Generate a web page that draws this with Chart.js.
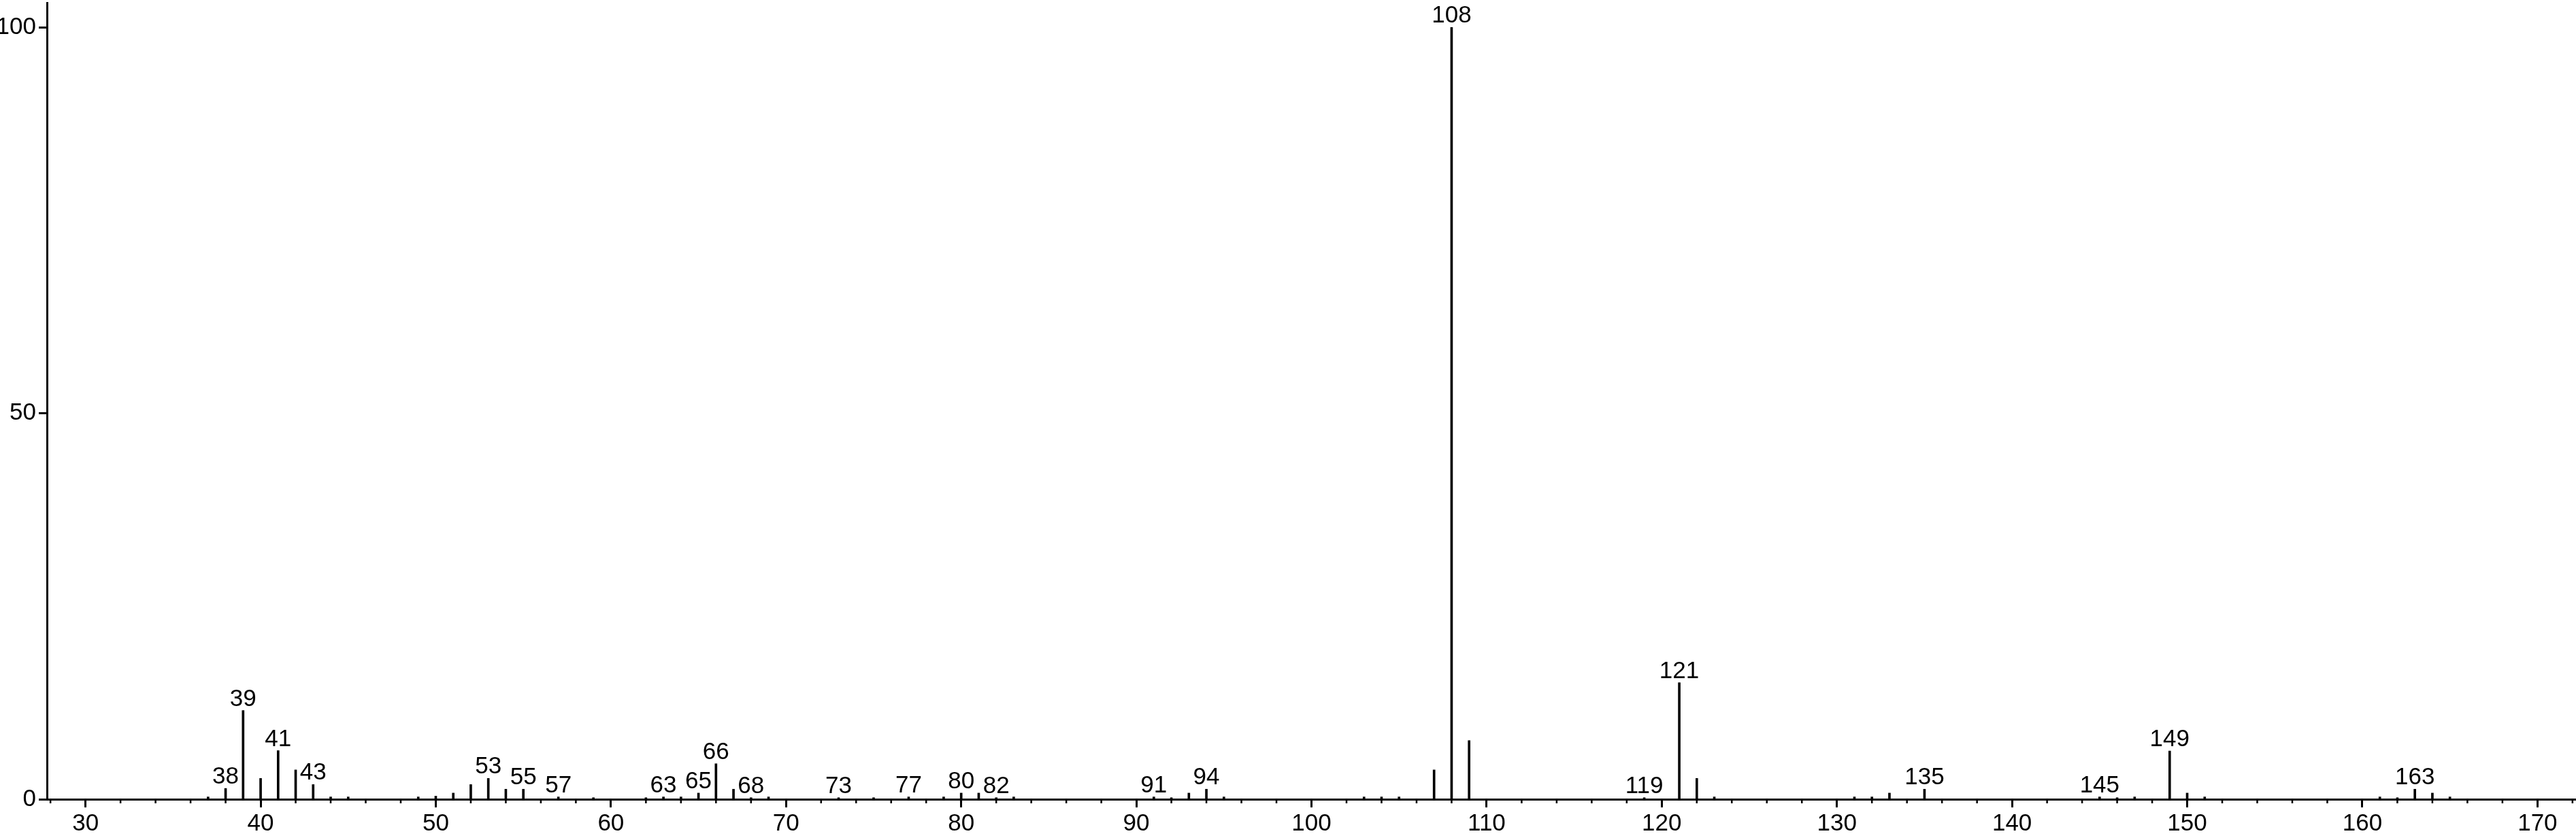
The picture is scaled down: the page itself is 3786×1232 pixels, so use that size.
<!DOCTYPE html>
<html>
<head>
<meta charset="utf-8">
<title>Mass spectrum</title>
<script src="https://cdn.jsdelivr.net/npm/chart.js@4.4.1/dist/chart.umd.min.js"></script>
<style>
  html, body { margin: 0; padding: 0; background: #fff; overflow: hidden; }
  canvas { display: block; }
</style>
</head>
<body>
<canvas id="ms-chart" width="3786" height="1232"></canvas>
<script>
// m/z of each peak and its relative intensity (%)
const masses = [37, 38, 39, 40, 41, 42, 43, 44, 45, 49, 50, 51, 52, 53, 54, 55, 57, 59, 62, 63, 64, 65, 66, 67, 68, 69,
  73, 75, 77, 79, 80, 81, 82, 83, 91, 92, 93, 94, 95, 103, 104, 105, 107, 108, 109, 119, 121, 122, 123,
  131, 132, 133, 135, 145, 146, 147, 149, 150, 151, 161, 162, 163, 164, 165]
const intensities = [0.3, 1.4, 11.5, 2.7, 6.3, 3.8, 1.9, 0.3, 0.3, 0.3, 0.4, 0.8, 1.9, 2.7, 1.3, 1.3, 0.3, 0.2, 0.2, 0.3, 0.3, 0.8, 4.6, 1.3, 0.2, 0.3,
  0.2, 0.2, 0.3, 0.3, 0.8, 0.8, 0.2, 0.3, 0.3, 0.2, 0.8, 1.3, 0.3, 0.3, 0.3, 0.3, 3.8, 100, 7.6, 0.2, 15.1, 2.7, 0.3,
  0.3, 0.3, 0.8, 1.3, 0.3, 0.2, 0.3, 6.25, 0.8, 0.3, 0.3, 0.2, 1.3, 0.8, 0.3]

// peaks that carry an m/z label
const labelledMasses = [38, 39, 41, 43, 53, 55, 57, 63, 65, 66, 68, 73, 77, 80, 82, 91, 94, 108, 119, 121, 135, 145, 149, 163]

// axis ticks
const xTickValues = [30, 40, 50, 60, 70, 80, 90, 100, 110, 120, 130, 140, 150, 160, 170]
const yTickValues = [0, 50, 100]

const FONT_FAMILY = '"Liberation Sans", Arial, Helvetica, sans-serif'
const FONT_SIZE = 35

// labels above peaks
const peakLabels = {
  id: 'peakLabels',
  afterDatasetsDraw(chart) {
    const ctx = chart.ctx
    const meta = chart.getDatasetMeta(0)
    ctx.save()
    ctx.font = FONT_SIZE + 'px ' + FONT_FAMILY
    ctx.fillStyle = '#000'
    ctx.textAlign = 'center'
    ctx.textBaseline = 'alphabetic'
    labelledMasses.forEach(m => {
      const bar = meta.data[masses.indexOf(m)]
      ctx.fillText(String(m), bar.x, bar.y - 7)
    })
    ctx.restore()
  }
}

// short ticks every 2 units on the x axis
const minorTicks = {
  id: 'minorTicks',
  afterDraw(chart) {
    const ctx = chart.ctx
    const xScale = chart.scales.x
    const y0 = chart.chartArea.bottom
    ctx.save()
    ctx.strokeStyle = '#000'
    ctx.lineWidth = 2.5
    ctx.beginPath()
    for (let v = Math.ceil(xScale.min / 2) * 2; v <= xScale.max; v += 2) {
      if (v % 10 === 0) continue
      const px = xScale.getPixelForValue(v)
      ctx.moveTo(px, y0)
      ctx.lineTo(px, y0 + 6)
    }
    ctx.stroke()
    ctx.restore()
  }
}

Chart.defaults.font.family = FONT_FAMILY
Chart.defaults.font.size = FONT_SIZE
Chart.defaults.color = '#000'

const ctx = document.getElementById('ms-chart')

new Chart(ctx, {
  type: 'bar',
  data: {
    datasets: [{
      data: masses.map((m, i) => ({x: m, y: intensities[i]})),
      backgroundColor: '#000',
      borderWidth: 0,
      barThickness: 3,
      grouped: false
    }]
  },
  options: {
    responsive: false,
    animation: false,
    layout: {
      padding: {top: 4, left: 0, right: 0, bottom: 0}
    },
    scales: {
      x: {
        type: 'linear',
        offset: false,
        min: 27.8,
        max: 172.2,
        afterBuildTicks: (scale) => {
          scale.ticks = xTickValues.map(v => ({value: v}))
        },
        afterFit: (scale) => {
          scale.height = 57
          scale.paddingLeft = 0
          scale.paddingRight = 0
        },
        grid: {
          offset: false,
          drawOnChartArea: false,
          drawTicks: true,
          tickLength: 12,
          tickWidth: 3,
          tickColor: '#000'
        },
        border: {
          display: true,
          color: '#000',
          width: 3
        },
        ticks: {
          padding: 3,
          maxRotation: 0,
          autoSkip: false,
          color: '#000'
        }
      },
      y: {
        min: 0,
        max: 103.2,
        afterBuildTicks: (scale) => {
          scale.ticks = yTickValues.map(v => ({value: v}))
        },
        afterFit: (scale) => {
          scale.width = 69
          scale.paddingTop = 0
          scale.paddingBottom = 0
        },
        grid: {
          drawOnChartArea: false,
          drawTicks: true,
          tickLength: 12,
          tickWidth: 3,
          tickColor: '#000'
        },
        border: {
          display: true,
          color: '#000',
          width: 3
        },
        ticks: {
          padding: 4,
          color: '#000'
        }
      }
    },
    plugins: {
      legend: {display: false},
      tooltip: {enabled: false}
    }
  },
  plugins: [peakLabels, minorTicks]
})
</script>
</body>
</html>
